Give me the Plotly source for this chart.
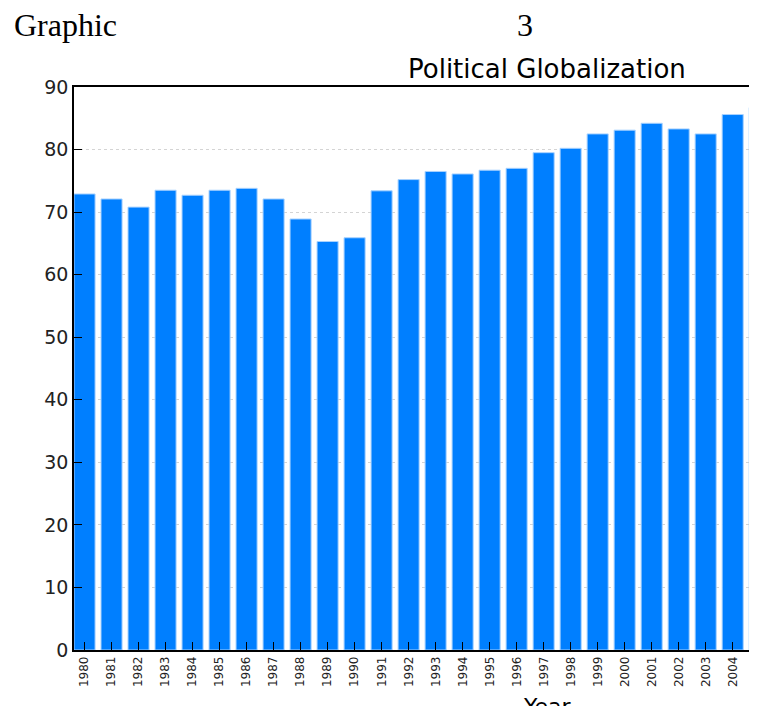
import plotly.graph_objects as go

# Political globalization index by year
years = [str(y) for y in range(1980, 2006)]
values = [72.9, 72.1, 70.8, 73.5, 72.7, 73.5, 73.8, 72.1, 68.9, 65.3,
          65.9, 73.4, 75.2, 76.5, 76.1, 76.7, 77.0, 79.5, 80.2, 82.5,
          83.1, 84.2, 83.3, 82.5, 85.6, 86.7]
y_ticks = [0, 10, 20, 30, 40, 50, 60, 70, 80, 90]

# the page body has an 8px margin, so the figure is shrunk to fit the window
OFF = 8
W, H = 757 - OFF, 706 - OFF
L, T, B = 74 - OFF, 87 - OFF, 706 - 650


def px_x(p):
    # page pixel -> paper x
    return (p - OFF - L) / (W - L)


def px_y(p):
    # page pixel -> paper y
    return (H - B - (p - OFF)) / (H - T - B)


fig = go.Figure()
fig.add_trace(go.Bar(
    x=years, y=values,
    marker=dict(color='#007fff', line=dict(color='#a8d2ff', width=1)),
    width=0.78,
))

fig.update_layout(
    width=W, height=H,
    margin=dict(l=L, r=0, t=T, b=B),
    plot_bgcolor='white', paper_bgcolor='white',
    showlegend=False,
    font=dict(family='DejaVu Sans', color='#222222'),
)
fig.update_xaxes(
    type='category', range=[-0.39, 24.9],
    showline=True, linecolor='black', linewidth=1.5, mirror=True,
    ticks='inside', ticklen=8, tickcolor='black',
    tickangle=-90, tickfont=dict(size=12, family='DejaVu Sans'),
    showgrid=False,
)
fig.update_yaxes(
    range=[0, 90], tickvals=y_ticks,
    showline=True, linecolor='black', linewidth=1.5,
    ticks='inside', ticklen=8, tickcolor='black',
    tickfont=dict(size=19, family='DejaVu Sans'),
    showgrid=True, gridcolor='#d4d4d4', griddash='dot', gridwidth=1,
    zeroline=False,
)

fig.add_annotation(text='Graphic', x=px_x(12), y=px_y(25), xref='paper', yref='paper',
                   xanchor='left', yanchor='middle', showarrow=False,
                   font=dict(family='Liberation Serif', size=32, color='black'))
fig.add_annotation(text='3', x=px_x(525), y=px_y(25), xref='paper', yref='paper',
                   xanchor='center', yanchor='middle', showarrow=False,
                   font=dict(family='Liberation Serif', size=32, color='black'))
fig.add_annotation(text='Political Globalization', x=px_x(547), y=px_y(69),
                   xref='paper', yref='paper', xanchor='center', yanchor='middle',
                   showarrow=False, font=dict(family='DejaVu Sans', size=26, color='black'))
fig.add_annotation(text='Year', x=px_x(547), y=px_y(692), xref='paper', yref='paper',
                   xanchor='center', yanchor='top', showarrow=False,
                   font=dict(family='DejaVu Sans', size=22, color='black'))

fig.write_html("out.html")
